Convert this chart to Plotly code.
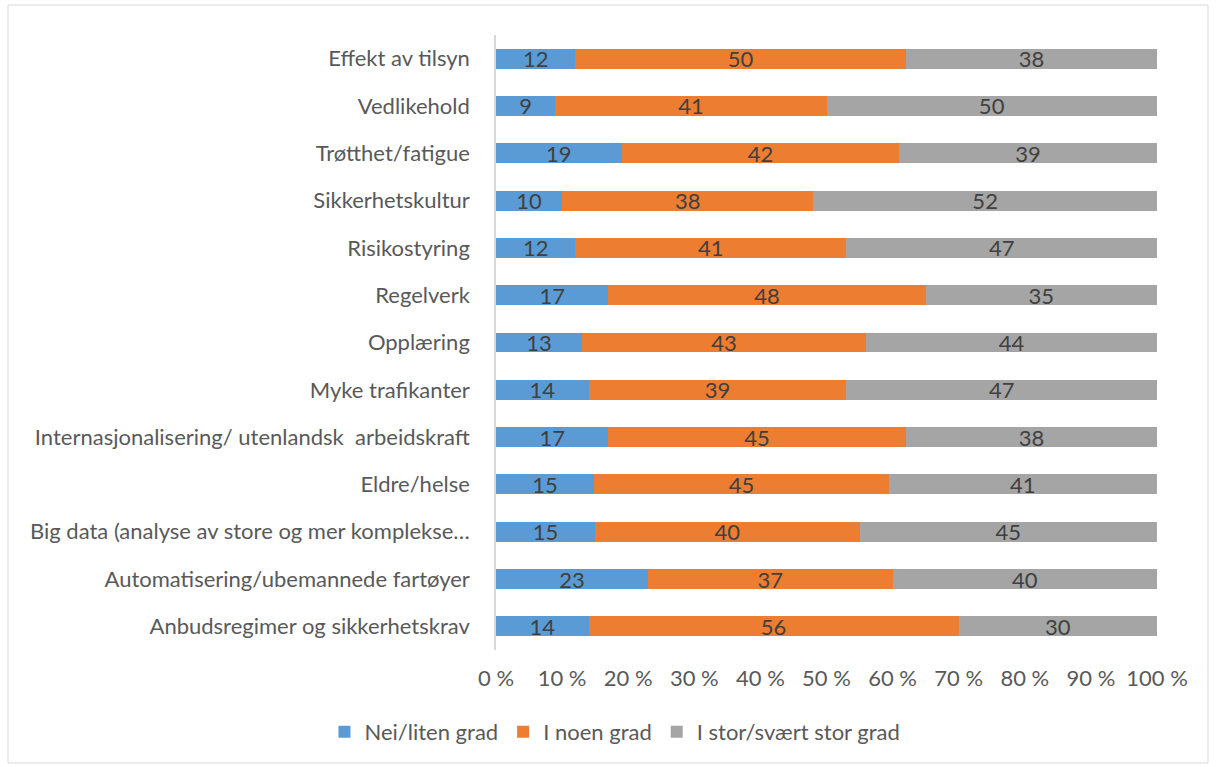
import plotly.graph_objects as go

categories = [
    "Effekt av tilsyn",
    "Vedlikehold",
    "Trøtthet/fatigue",
    "Sikkerhetskultur",
    "Risikostyring",
    "Regelverk",
    "Opplæring",
    "Myke trafikanter",
    "Internasjonalisering/ utenlandsk\u00a0 arbeidskraft",
    "Eldre/helse",
    "Big data (analyse av store og mer komplekse…",
    "Automatisering/ubemannede fartøyer",
    "Anbudsregimer og sikkerhetskrav",
]
nei_liten = [12, 9, 19, 10, 12, 17, 13, 14, 17, 15, 15, 23, 14]
noen = [50, 41, 42, 38, 41, 48, 43, 39, 45, 45, 40, 37, 56]
stor = [38, 50, 39, 52, 47, 35, 44, 47, 38, 41, 45, 40, 30]

series = [
    ("Nei/liten grad", nei_liten, "#5B9BD5"),
    ("I noen grad", noen, "#ED7D31"),
    ("I stor/svært stor grad", stor, "#A5A5A5"),
]

x_ticks = [0, 10, 20, 30, 40, 50, 60, 70, 80, 90, 100]

FONT = "Lato, 'Open Sans', sans-serif"
TXT = "#404040"
LBL = "#595959"
FS = 22

fig = go.Figure()
for name, vals, col in series:
    fig.add_trace(go.Bar(
        y=categories, x=vals, name=name, orientation="h",
        marker=dict(color=col, line=dict(width=0)),
        text=[str(v) for v in vals], textposition="inside",
        insidetextanchor="middle", textangle=0,
        textfont=dict(color=TXT, size=FS, family=FONT),
        cliponaxis=False,
    ))

W, H = 1216, 767
L, R, T, B = 496, 59, 35, 117
pw, ph = W - L - R, H - T - B

def px(x):
    return (x - L) / pw

def py(y):
    return 1 - (y - T) / ph

fig.add_shape(type="rect", xref="paper", yref="paper",
              x0=px(8), x1=px(1208), y0=py(763), y1=py(5),
              line=dict(color="#D9D9D9", width=1), fillcolor="rgba(0,0,0,0)",
              layer="below")

fig.update_layout(
    width=W, height=H,
    barmode="stack", barnorm="percent", bargap=0.58,
    margin=dict(l=L, r=R, t=T, b=B),
    plot_bgcolor="white", paper_bgcolor="white",
    font=dict(family=FONT, color=LBL, size=FS),
    showlegend=True,
    legend=dict(orientation="h", x=0.18, xanchor="center", y=py(732), yanchor="middle",
                font=dict(size=FS, color=LBL, family=FONT), traceorder="normal",
                itemwidth=30),
    uniformtext=dict(minsize=FS, mode="show"),
)
fig.update_xaxes(range=[0, 100], tickvals=x_ticks,
                 ticktext=[f"{v} %" for v in x_ticks],
                 showgrid=False, zeroline=False, showline=False, ticks="",
                 ticklabelstandoff=13, tickfont=dict(size=FS, color=LBL, family=FONT))
fig.update_yaxes(autorange="reversed", showgrid=False, ticks="",
                 showline=True, linecolor="#D9D9D9", linewidth=1.5,
                 ticklabelstandoff=20, tickfont=dict(size=FS, color=LBL, family=FONT))

fig.write_html("out.html")
